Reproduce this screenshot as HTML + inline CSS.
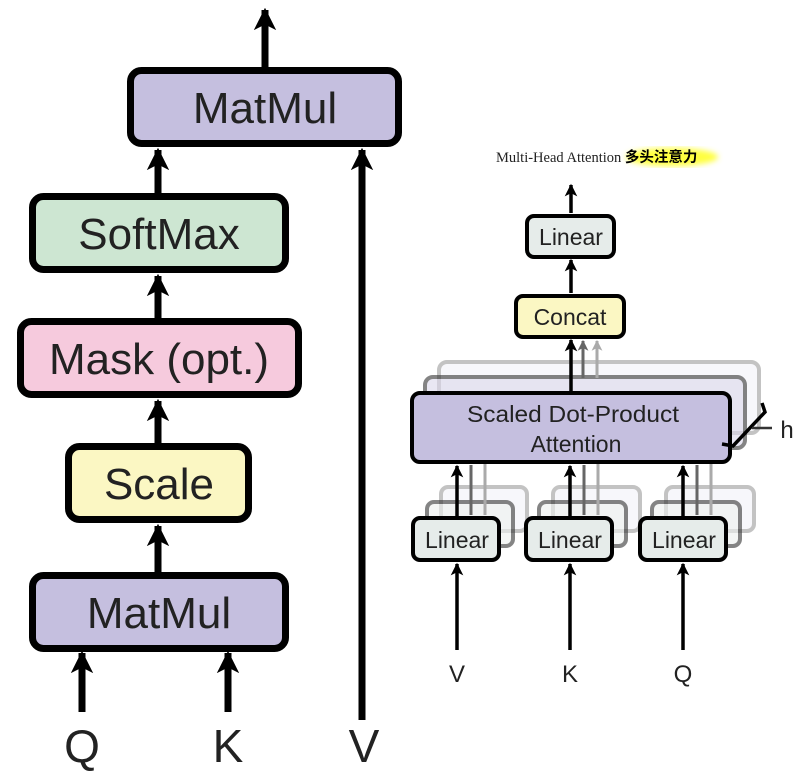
<!DOCTYPE html>
<html><head><meta charset="utf-8"><style>
body{margin:0;background:#fff}
svg{display:block}
.t{font-family:"Liberation Sans","DejaVu Sans",sans-serif;fill:#222}
</style></head><body>
<svg width="805" height="780" viewBox="0 0 805 780" xmlns="http://www.w3.org/2000/svg">
<defs>
<marker id="ah" viewBox="0 0 10 10" refX="9" refY="5" markerWidth="3.2" markerHeight="3.4" orient="auto"><path d="M0,0L10,5L0,10L2.5,5z" fill="#000"/></marker>
<marker id="ahs" viewBox="0 0 10 10" refX="9" refY="5" markerWidth="4" markerHeight="3.6" orient="auto"><path d="M0,0L10,5L0,10L2.5,5z" fill="#000"/></marker>
<marker id="ahg1" viewBox="0 0 10 10" refX="9" refY="5" markerWidth="4" markerHeight="3.6" orient="auto"><path d="M0,0L10,5L0,10L2.5,5z" fill="#666"/></marker>
<marker id="ahg2" viewBox="0 0 10 10" refX="9" refY="5" markerWidth="4" markerHeight="3.6" orient="auto"><path d="M0,0L10,5L0,10L2.5,5z" fill="#aaa"/></marker>
<filter id="glow"><feGaussianBlur stdDeviation="3"/></filter>
</defs>
<!-- LEFT -->
<g stroke="#000" stroke-width="7">
<line x1="265" y1="68" x2="265" y2="10" marker-end="url(#ah)"/>
<line x1="158" y1="193" x2="158" y2="150" marker-end="url(#ah)"/>
<line x1="158" y1="319" x2="158" y2="276" marker-end="url(#ah)"/>
<line x1="158" y1="444" x2="158" y2="401" marker-end="url(#ah)"/>
<line x1="158" y1="573" x2="158" y2="526" marker-end="url(#ah)"/>
<line x1="82" y1="712" x2="82" y2="653" marker-end="url(#ah)"/>
<line x1="228" y1="712" x2="228" y2="653" marker-end="url(#ah)"/>
<line x1="362" y1="720" x2="362" y2="150" marker-end="url(#ah)"/>
<rect x="130.5" y="70.5" width="268" height="73" rx="11" fill="#c5bfdf"/>
<rect x="32.5" y="196.5" width="253" height="73" rx="11" fill="#cde6d2"/>
<rect x="20.5" y="321.5" width="278" height="73" rx="11" fill="#f6cadd"/>
<rect x="68.5" y="446.5" width="180" height="73" rx="11" fill="#fbf7c3"/>
<rect x="32.5" y="575.5" width="253" height="73" rx="11" fill="#c5bfdf"/>
</g>
<g class="t" font-size="44" text-anchor="middle">
<text x="265" y="123">MatMul</text>
<text x="159" y="249">SoftMax</text>
<text x="159" y="374">Mask (opt.)</text>
<text x="159" y="499">Scale</text>
<text x="159" y="628">MatMul</text>
<text x="82" y="762" font-size="46">Q</text>
<text x="228" y="762" font-size="46">K</text>
<text x="364" y="762" font-size="46">V</text>
</g>
<!-- RIGHT title -->
<ellipse cx="672" cy="157" rx="46" ry="9" fill="#ffff40" filter="url(#glow)"/>
<text x="496" y="162" font-family="'Liberation Serif',serif" font-size="14.5" fill="#222">Multi-Head Attention <tspan font-family="'Liberation Sans','Noto Sans CJK SC',sans-serif" font-weight="bold" fill="#000" font-size="14.5">多头注意力</tspan></text>
<!-- stacked back layers -->
<g opacity="0.35" stroke="#555" stroke-width="4" fill="#ebe9f5">
<rect x="439" y="362" width="320" height="71" rx="8"/>
<rect x="441" y="487" width="86" height="44" rx="7"/><rect x="553" y="487" width="87" height="44" rx="7"/><rect x="666" y="487" width="88" height="44" rx="7"/>
</g>
<g opacity="0.6" stroke="#333" stroke-width="4" fill="#dcd8ec">
<rect x="425" y="377" width="320" height="71" rx="8"/>
<rect x="427" y="502" width="86" height="44" rx="7" fill="#eef1ef"/><rect x="539" y="502" width="87" height="44" rx="7" fill="#eef1ef"/><rect x="652" y="502" width="88" height="44" rx="7" fill="#eef1ef"/>
</g>
<g stroke-width="3">
<line x1="597" y1="378" x2="597" y2="341" stroke="#aaa" marker-end="url(#ahg2)"/>
<line x1="583" y1="378" x2="583" y2="341" stroke="#666" marker-end="url(#ahg1)"/>
<g stroke="#aaa"><line x1="485" y1="515" x2="485" y2="450"/><line x1="598" y1="515" x2="598" y2="450"/><line x1="711" y1="515" x2="711" y2="450"/></g>
<g stroke="#666"><line x1="471" y1="515" x2="471" y2="465"/><line x1="584" y1="515" x2="584" y2="465"/><line x1="697" y1="515" x2="697" y2="465"/></g>
</g>
<g stroke="#000" stroke-width="3.5">
<line x1="571" y1="213" x2="571" y2="185" marker-end="url(#ahs)"/>
<line x1="571" y1="293" x2="571" y2="260" marker-end="url(#ahs)"/>
<line x1="571" y1="392" x2="571" y2="340" marker-end="url(#ahs)"/>
<line x1="457" y1="517" x2="457" y2="466" marker-end="url(#ahs)"/>
<line x1="570" y1="517" x2="570" y2="466" marker-end="url(#ahs)"/>
<line x1="683" y1="517" x2="683" y2="466" marker-end="url(#ahs)"/>
<line x1="457" y1="650" x2="457" y2="564" marker-end="url(#ahs)"/>
<line x1="570" y1="650" x2="570" y2="564" marker-end="url(#ahs)"/>
<line x1="683" y1="650" x2="683" y2="564" marker-end="url(#ahs)"/>
</g>
<g stroke="#000" stroke-width="4">
<rect x="527" y="216" width="87" height="41" rx="7" fill="#e6ecea"/>
<rect x="516" y="296" width="108" height="41" rx="7" fill="#fbf7c3"/>
<rect x="412" y="393" width="318" height="69" rx="8" fill="#c5bfdf"/>
<rect x="413" y="518" width="86" height="42" rx="7" fill="#e6ecea"/>
<rect x="526" y="518" width="86" height="42" rx="7" fill="#e6ecea"/>
<rect x="640" y="518" width="86" height="42" rx="7" fill="#e6ecea"/>
</g>
<path d="M762,403 L765,412 L733,446 L722,444" fill="none" stroke="#000" stroke-width="3.5"/>
<line x1="752" y1="428" x2="772" y2="428" stroke="#333" stroke-width="2.5"/>
<g class="t" font-size="23" text-anchor="middle">
<text x="571" y="245">Linear</text>
<text x="570" y="325">Concat</text>
<text x="573" y="422" textLength="212" lengthAdjust="spacingAndGlyphs">Scaled Dot-Product</text>
<text x="576" y="452">Attention</text>
<text x="457" y="548">Linear</text>
<text x="570" y="548">Linear</text>
<text x="684" y="548">Linear</text>
<text x="457" y="682" font-size="24">V</text>
<text x="570" y="682" font-size="24">K</text>
<text x="683" y="682" font-size="24">Q</text>
<text x="787" y="438" font-size="24">h</text>
</g>
</svg>
</body></html>
